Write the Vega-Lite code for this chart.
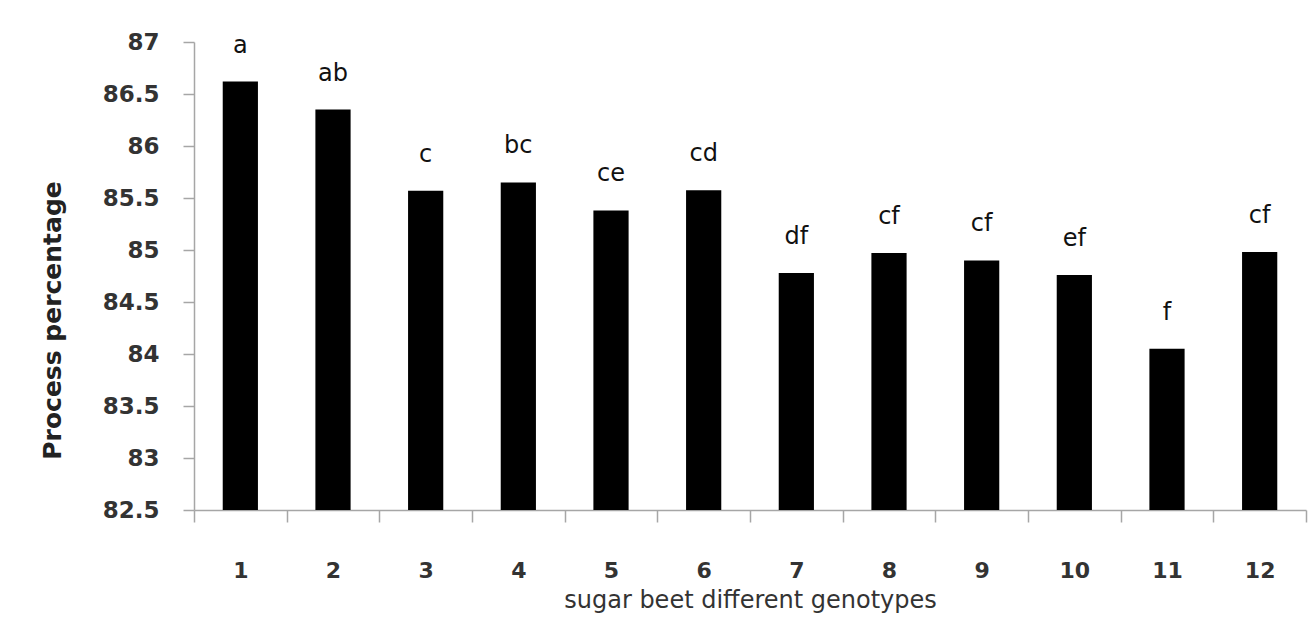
{
  "$schema": "https://vega.github.io/schema/vega-lite/v6.json",
  "autosize": {"type": "none"},
  "padding": {"left": 194, "top": 42, "right": 8, "bottom": 111},
  "width": 1112,
  "height": 468,
  "background": "white",
  "config": {
    "view": {"stroke": null},
    "font": "DejaVu Sans"
  },
  "data": {
    "values": [
      {"genotype": "1", "value": 86.62, "group": "a"},
      {"genotype": "2", "value": 86.35, "group": "ab"},
      {"genotype": "3", "value": 85.57, "group": "c"},
      {"genotype": "4", "value": 85.65, "group": "bc"},
      {"genotype": "5", "value": 85.38, "group": "ce"},
      {"genotype": "6", "value": 85.575, "group": "cd"},
      {"genotype": "7", "value": 84.78, "group": "df"},
      {"genotype": "8", "value": 84.97, "group": "cf"},
      {"genotype": "9", "value": 84.9, "group": "cf"},
      {"genotype": "10", "value": 84.76, "group": "ef"},
      {"genotype": "11", "value": 84.05, "group": "f"},
      {"genotype": "12", "value": 84.98, "group": "cf"}
    ]
  },
  "encoding": {
    "x": {
      "field": "genotype",
      "type": "ordinal",
      "sort": null,
      "scale": {"paddingInner": 0, "paddingOuter": 0},
      "axis": {
        "title": "sugar beet different genotypes",
        "titleFont": "DejaVu Sans",
        "titleFontSize": 24,
        "titleFontWeight": "normal",
        "titleColor": "#333333",
        "titleY": 90,
        "titleBaseline": "middle",
        "labelAngle": 0,
        "labelFont": "DejaVu Sans",
        "labelFontSize": 22,
        "labelFontWeight": "bold",
        "labelColor": "#333333",
        "labelPadding": 38,
        "tickBand": "extent",
        "tickSize": 12,
        "tickColor": "#a6a6a6",
        "tickWidth": 1.5,
        "domainColor": "#a6a6a6",
        "domainWidth": 1.5,
        "grid": false
      }
    },
    "y": {
      "field": "value",
      "type": "quantitative",
      "scale": {"domain": [82.5, 87], "zero": false, "nice": false},
      "axis": {
        "title": "Process percentage",
        "titleFont": "DejaVu Sans",
        "titleFontSize": 25,
        "titleFontWeight": "bold",
        "titleColor": "#222222",
        "titleAngle": 270,
        "titleX": -142,
        "titleY": 278,
        "titleAlign": "center",
        "titleBaseline": "middle",
        "values": [82.5, 83, 83.5, 84, 84.5, 85, 85.5, 86, 86.5, 87],
        "format": ".1~f",
        "labelFont": "DejaVu Sans",
        "labelFontSize": 23,
        "labelFontWeight": "bold",
        "labelColor": "#333333",
        "labelPadding": 24,
        "tickSize": 11,
        "tickColor": "#a6a6a6",
        "tickWidth": 1.5,
        "domainColor": "#a6a6a6",
        "domainWidth": 1.5,
        "grid": false
      }
    }
  },
  "layer": [
    {
      "mark": {"type": "bar", "color": "#000000", "width": {"band": 0.38}},
      "encoding": {"y2": {"datum": 82.5}}
    },
    {
      "mark": {
        "type": "text",
        "font": "DejaVu Sans",
        "fontSize": 24,
        "color": "#111111",
        "baseline": "middle",
        "dy": -36
      },
      "encoding": {"text": {"field": "group"}}
    }
  ]
}
